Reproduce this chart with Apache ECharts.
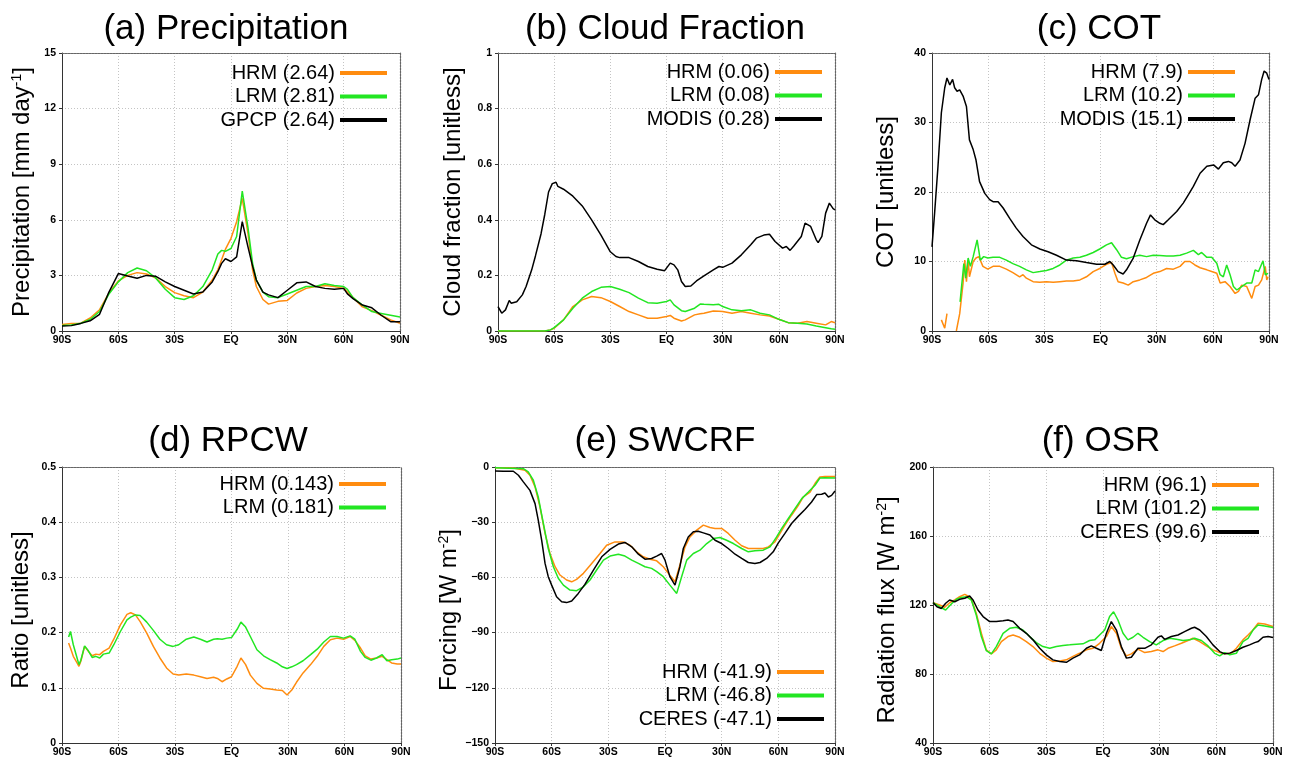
<!DOCTYPE html>
<html><head><meta charset="utf-8">
<script src="https://cdn.jsdelivr.net/npm/echarts@6/dist/echarts.min.js"></script>
<style>html,body{margin:0;padding:0;background:#fff}#c{width:1290px;height:760px}</style>
</head><body><div id="c"></div>
<script>
// ---------- (a) Precipitation ----------
const precLat  = [-90,-85,-80,-75,-70,-65,-60,-55,-50,-45,-40,-35,-30,-25,-20,-15,-10,-7,-5,-3,0,3,6,9,11.5,13.5,17,20,25,30,35,40,45,50,55,60,62,65,70,75,80,85,90];
const precHRM  = [0.35,0.4,0.42,0.7,1.15,2.05,2.7,3.0,3.15,3.08,2.85,2.4,2.07,1.9,1.8,2.1,2.75,3.3,3.85,4.4,5.0,5.9,7.15,5.3,3.3,2.4,1.7,1.45,1.6,1.65,2.05,2.3,2.4,2.45,2.4,2.3,2.1,1.8,1.3,1.1,0.85,0.6,0.42];
const precLRM  = [0.3,0.32,0.42,0.62,1.05,2.0,2.65,3.15,3.4,3.25,2.85,2.25,1.8,1.7,1.9,2.4,3.3,4.15,4.35,4.3,4.45,5.1,7.55,5.6,3.65,2.75,2.1,1.85,1.8,2.0,2.2,2.4,2.4,2.55,2.45,2.4,2.25,1.8,1.4,1.05,0.95,0.85,0.75];
const precGPCP = [0.27,0.29,0.41,0.55,0.9,2.1,3.1,2.97,2.85,3.0,2.95,2.65,2.4,2.2,2.0,2.1,2.65,3.2,3.65,3.9,3.75,4.0,5.9,4.55,3.5,2.75,2.1,1.95,1.8,2.2,2.6,2.65,2.4,2.3,2.25,2.3,2.0,1.75,1.4,1.25,0.85,0.5,0.5];

// ---------- (b) Cloud Fraction ----------
const cfModelLat = [-90,-65,-62,-60,-55,-50,-45,-40,-35,-30,-25,-20,-15,-10,-5,0,2,4,8,10,15,18,20,25,28,30,35,40,45,50,55,60,65,70,75,80,85,88,90];
const cfHRM = [0,0,0.004,0.01,0.04,0.088,0.112,0.124,0.12,0.106,0.088,0.07,0.058,0.046,0.046,0.052,0.056,0.046,0.036,0.04,0.058,0.062,0.064,0.072,0.071,0.07,0.064,0.07,0.064,0.058,0.054,0.042,0.03,0.028,0.034,0.028,0.022,0.034,0.03];
const cfLRM = [0,0,0.004,0.012,0.04,0.082,0.118,0.142,0.157,0.16,0.15,0.138,0.118,0.102,0.1,0.106,0.112,0.094,0.073,0.07,0.082,0.097,0.096,0.094,0.096,0.088,0.076,0.073,0.076,0.064,0.058,0.042,0.03,0.028,0.025,0.018,0.012,0.008,0.006];
const cfObsLat = [-90,-88,-86,-84,-83,-80,-77,-75,-72,-70,-67,-65,-63,-61,-59,-58,-55,-50,-45,-40,-35,-30,-27,-25,-20,-15,-10,-5,-1,0,2,4,6,8,10,13,16,20,25,28,30,35,40,45,48,52,55,58,62,64,66,68,72,74,75,77,80,81,83,85,87,89,90];
const cfMODIS = [0.088,0.064,0.076,0.11,0.10,0.105,0.13,0.16,0.22,0.27,0.35,0.42,0.50,0.53,0.535,0.52,0.51,0.485,0.45,0.40,0.345,0.285,0.268,0.264,0.264,0.25,0.232,0.222,0.217,0.22,0.244,0.238,0.22,0.178,0.16,0.162,0.18,0.198,0.22,0.232,0.229,0.244,0.274,0.31,0.334,0.345,0.348,0.322,0.298,0.304,0.29,0.306,0.34,0.388,0.394,0.376,0.328,0.318,0.34,0.424,0.46,0.44,0.436];

// ---------- (c) COT ----------
const cotHRMLat = [-85,-83.2,-82,-80,-77,-75.2,-73.4,-72.5,-71.6,-70.7,-70,-68,-66.5,-65,-62.8,-60.2,-57.4,-53.8,-50.3,-46.8,-43.2,-41.4,-39.6,-36,-32.4,-28.9,-25.3,-21.7,-18.2,-14.6,-11,-7.5,-3.9,-0.4,3.2,5.9,7.7,9.4,12.1,14.8,17.5,21,24.6,28.2,31.7,35.3,38.9,42.5,45,47.8,50.4,53.2,56.8,59.4,62.1,63.9,66.5,69.2,71.9,73.7,75.4,78.1,80.8,82.6,84.4,86.1,88,88.8,89.5];
const cotHRM = [1.6,0.4,2.5,null,0,2.5,6.9,10.2,7.1,10.2,7.8,10,10.5,10.7,9.3,8.9,9.3,9.3,8.9,8.4,7.8,8.1,7.6,7.1,7.0,7.1,7.0,7.1,7.2,7.2,7.35,7.8,8.55,9.0,9.6,9.85,8.3,7.1,6.9,6.6,7.1,7.35,7.7,8.3,8.55,9.0,8.9,9.3,10,10,9.5,9.1,8.8,8.55,8.3,6.9,7.1,6.4,5.4,5.7,6.6,6.4,4.7,6.4,6.6,7.35,9.3,7.35,7.8];
const cotLRMLat = [-75,-73,-72,-70.7,-69.5,-68,-65.9,-64.2,-62.4,-60.2,-57.4,-53.8,-50.3,-46.8,-43.2,-39.6,-36,-32.4,-28.9,-25.3,-21.7,-18.2,-14.6,-11,-7.5,-3.9,-0.4,3.2,5.9,8.6,11.2,13.9,17.5,21,24.6,28.2,31.7,35.3,38.9,42.5,46,49.6,52.3,54,56.8,59.4,62.1,63.9,65.6,67.4,69.2,71,72.8,75.4,78.1,80.8,82.6,84.4,86.8,88,89.5];
const cotLRM = [4.2,9.7,7.6,10.5,9.3,10.7,13.1,10.2,10.7,10.5,10.6,10.6,10.2,9.7,9.3,8.8,8.4,8.55,8.7,9.0,9.5,10.2,10.5,10.6,10.9,11.3,11.8,12.4,12.7,11.7,10.6,10.4,10.7,10.9,10.7,10.9,10.85,10.8,10.8,10.9,11.2,11.6,11,11.3,10.6,10.6,9.75,8.1,7.8,9.5,8.1,6.4,5.9,6.4,6.9,6.9,8.8,8.55,10.1,8.1,8.3];
const cotObsLat = [-90,-88.6,-86.8,-85,-83.2,-82,-80.5,-79,-77.9,-76.6,-75.2,-73.4,-71.6,-70,-68,-66.5,-64.6,-61.8,-59.2,-57.4,-54.7,-52,-48.5,-45,-41.4,-36.9,-32.4,-28,-23.5,-18.2,-12.8,-7.5,-2.1,2.3,5,6.8,9.4,12.1,13.9,17.5,21,24.6,26.7,29,31.7,33.5,36.2,40.7,44.2,46.9,49.6,53.2,56.8,60.4,63,65.6,68.3,70.1,71.9,74.5,77.2,79.9,82.6,84.4,86.1,87.4,88.8,90];
const cotMODIS = [12.1,17,23.7,31.4,35,36.4,35.4,36.2,35,34.5,34.7,33.8,32.3,27.5,26.1,24.6,21.5,19.8,18.9,18.6,18.6,17.7,16.2,14.8,13.6,12.4,11.8,11.4,10.9,10.2,10.1,9.85,9.6,9.6,10,9.5,8.55,8.2,8.8,10.5,13.1,15.5,16.7,16,15.5,15.3,16,17.2,18.4,19.6,20.8,22.7,23.7,23.9,23.3,24.2,24.4,24.2,23.7,24.6,27,30.4,33.5,34,36.2,37.4,37.1,36.2];

// ---------- (d) RPCW ----------
const rpcwLat = [-86.5,-85.5,-84,-82,-81,-80,-78,-76,-74,-72,-70,-68,-65,-62.5,-59,-55.5,-53.5,-51,-48.5,-45,-41.5,-38,-34.5,-31,-28,-24,-20,-16.5,-13,-9.5,-7.5,-5,-2.5,0,3,5,7.5,10,13.5,17,20.5,24,27,29.5,32,34.5,38,42,45.5,49,52.5,56,59.5,63,65.5,68.5,71,74,77,80,82.5,85,88,90];
const rpcwHRM = [0.181,0.172,0.157,0.145,0.139,0.148,0.175,0.166,0.158,0.161,0.16,0.166,0.172,0.188,0.214,0.233,0.236,0.232,0.22,0.199,0.175,0.154,0.136,0.125,0.123,0.125,0.123,0.12,0.117,0.119,0.117,0.111,0.116,0.12,0.139,0.154,0.142,0.123,0.108,0.099,0.098,0.096,0.095,0.087,0.096,0.11,0.127,0.142,0.157,0.175,0.187,0.19,0.188,0.193,0.186,0.172,0.158,0.152,0.154,0.157,0.151,0.145,0.143,0.143];
const rpcwLRM = [0.192,0.202,0.178,0.154,0.142,0.150,0.176,0.167,0.155,0.157,0.154,0.161,0.163,0.178,0.202,0.223,0.228,0.232,0.231,0.219,0.204,0.188,0.178,0.175,0.178,0.188,0.192,0.188,0.183,0.188,0.189,0.188,0.19,0.191,0.206,0.219,0.21,0.193,0.169,0.158,0.151,0.145,0.138,0.135,0.138,0.142,0.149,0.16,0.17,0.183,0.193,0.193,0.19,0.194,0.188,0.166,0.155,0.15,0.154,0.16,0.149,0.151,0.152,0.154];

// ---------- (e) SWCRF ----------
const swHRMLat = [-90,-80.3,-74.1,-71.5,-68.8,-66.2,-63.5,-60.9,-58.2,-55.6,-52.1,-49.4,-46.8,-43.2,-38.8,-34.4,-30.9,-26.5,-22.1,-18.5,-15,-11.5,-7.9,-4.4,-0.9,1.8,5.3,7.9,10.6,13.2,16.8,20.3,23.8,26.5,30,33.5,37.1,40.6,44.1,47.6,52,54.7,58.2,60.9,63.5,67,70.6,73.2,76.8,79.4,82,84.7,90];
const swHRM = [-0.4,-0.5,-1.8,-4.5,-10.8,-21.7,-36.1,-47,-54.2,-58.7,-61.4,-62.4,-61.1,-57.8,-52.4,-47,-42.5,-40.7,-40.7,-42.5,-46.1,-48.8,-50.1,-51,-54.2,-57.8,-62.4,-53.3,-43.4,-38,-34.3,-31.6,-32.9,-33.4,-33.4,-36.1,-39.8,-42.8,-44.3,-44.3,-44.3,-43.4,-40.7,-36.1,-31.6,-26.2,-20.8,-16.3,-13.6,-9,-5.4,-5.1,-5.2];
const swLRMLat = [-90,-75,-72.4,-69.7,-67.1,-64.4,-61.8,-59.1,-56.5,-53.8,-50.3,-46.8,-43.2,-39.7,-36.2,-32.6,-29.1,-24.7,-21.2,-17.6,-14.1,-10.6,-7.1,-4.4,-0.9,2.6,6.2,8.8,11.5,15,18.5,22.1,25.6,29.1,32.6,36.2,40.6,44.1,47.6,52,55.6,59.1,61.8,65.3,68.8,72.4,75.9,79.4,82,84.7,90];
const swLRM = [-0.4,-0.9,-2.7,-7.2,-16.3,-30.7,-44.3,-54.2,-60.5,-64.2,-66.9,-67.2,-65.1,-61.4,-56,-50.6,-48.4,-47.4,-48.4,-50.6,-52.4,-54.2,-55.1,-56.9,-59.6,-64.2,-68.7,-59.6,-50.6,-47,-45.2,-41.6,-38.9,-38.3,-39.8,-41.6,-44.3,-46.1,-45.5,-45.2,-43.4,-38,-33.4,-28,-22.6,-17.2,-13.6,-9.9,-6,-5.8,-6];
const swObsLat = [-90,-85.6,-80.3,-77.6,-75,-71.5,-68.8,-67.1,-65.3,-63.5,-61.8,-60,-57.4,-54.7,-52.1,-49.4,-45.9,-42.4,-37.9,-33.5,-29.1,-24.7,-21.2,-17.6,-14.1,-10.6,-7.1,-4.4,-1.8,0,2.6,5.3,7.9,9.7,12.3,15,17.6,20.3,23.8,26.5,30,33.5,37.1,40.6,44.1,47.6,50.3,53.8,57.3,60,63.5,67,70.6,74.1,77.6,80.3,82.9,84.7,86.5,88.2,90];
const swCERES = [-2.2,-2.3,-2.3,-4.5,-8.1,-12.7,-19.9,-28.9,-39.8,-52.4,-59.6,-64.2,-70.5,-73.2,-73.7,-72.8,-68.7,-63.8,-56,-48.8,-44.8,-41.9,-41,-43.4,-47.4,-50.1,-49.7,-48.4,-47,-50.6,-59.6,-64.2,-54.2,-44.3,-38,-35.2,-34.9,-35.8,-37,-39.8,-41.6,-44.3,-47.4,-49.7,-51.9,-52.4,-51.9,-49.7,-46.1,-41.2,-36.1,-30.7,-26.7,-23.1,-19,-15,-14.8,-14.1,-16.3,-15.4,-13];

// ---------- (f) OSR ----------
const osrHRMLat = [-90,-86.5,-83.8,-81.2,-78.5,-75.9,-73.2,-71.5,-69.7,-67.1,-64.4,-61.8,-59.1,-56.5,-53.8,-50.3,-47.6,-44.1,-40.6,-37.1,-33.5,-30,-26.5,-22.9,-19.4,-15.9,-12.4,-8.8,-5.3,-1.8,1.8,4.4,7.1,9.7,12.4,15,18.5,22.1,25.6,29.1,31.8,34.4,37.9,41.5,45,47.6,51.2,54.7,58.2,61.8,64.4,68,70.6,74.1,76.8,79.4,82.1,85.6,90];
const osrHRM = [121.3,120,118.7,121.3,122.9,124.8,126.2,125.2,123.3,115.2,103.6,94,91.7,94,98.8,101.7,102.6,101.3,98.8,95.9,92,89.2,87.2,87.6,88.2,90.2,92,94,94.9,97.8,101.7,107.5,103.6,94.9,90.5,91.7,94.4,92.4,93,94,93,94.9,96.3,97.8,99.4,100.7,98.8,96.3,94,92.4,91.7,92.1,94.9,99.8,102.6,105.5,109.4,109,107.5];
const osrLRMLat = [-90,-86.5,-83.3,-80.3,-77.6,-75,-72.4,-69.7,-67.1,-64.4,-61.8,-59.1,-56.5,-52.9,-49.4,-45.9,-42.4,-38.8,-35.3,-31.8,-28.2,-24.7,-21.2,-17.6,-14.1,-10.6,-7.1,-4.4,-1.8,0.9,3.5,5.6,7.9,10.6,13.2,15.9,18.5,21.2,24.7,28.2,31.8,35.3,38.8,42.4,45.9,48.5,52.1,55.6,59.1,61.8,64.4,67.1,70.6,74.1,76.8,79.4,82.1,85.6,90];
const osrLRM = [121.3,119,117.1,120.6,123.3,124.4,124.8,122.9,114.2,101.7,93.6,91.7,95.9,103.6,106.5,107.1,105.5,101.7,98.2,95.9,94.9,95.9,96.5,96.9,97.3,97.5,99.4,99.8,102.6,105.5,113.3,116.1,111.3,103.6,99.8,101.3,103.6,101.3,98.8,96.9,99.4,100.7,100.1,99.4,99.8,100.7,99.4,96.3,92,90.5,92.4,91.1,92,98.8,100.7,105.5,108.4,107.8,106.9];
const osrObsLat = [-90,-87.9,-85.6,-83.3,-81.2,-78.5,-75.9,-73.2,-70.6,-68.8,-66.2,-63.5,-60,-56.5,-52.9,-50.3,-47.6,-44.1,-40.6,-37.1,-33.5,-30,-26.5,-22.9,-19.4,-15.9,-12.4,-8.8,-6.2,-3.5,-0.9,1.8,4.4,7.1,9.7,12.4,15,18.5,22.1,25.6,29.1,30.9,32.6,36.2,39.7,43.2,46.8,48.5,51.2,54.7,58.2,61.8,64.4,67.1,70.6,74.1,77.6,80.3,82.1,84.7,87.4,90];
const osrCERES = [121.5,119,118,121,122.9,121.9,123.3,123.9,125.2,122.9,117.1,113.3,110.4,110.4,110.9,111.3,110.4,106.5,103.6,99.8,94.9,91.1,88.2,87.2,86.8,89.2,91.1,94.9,96.3,94.9,93.6,103.6,110.4,105.5,95.9,89.2,89.7,94.9,94.9,96.9,101.3,102.1,100.1,101.7,102.6,104.6,106.5,107.1,105.5,101.7,96.9,93,91.7,92.1,93.6,95.5,96.9,98.2,98.8,101.3,101.7,101.1];

// ---------- text ----------
const titles = ['(a) Precipitation','(b) Cloud Fraction','(c) COT','(d) RPCW','(e) SWCRF','(f) OSR'];
const yNames = ['Precipitation [mm day{sup|-1}]','Cloud fraction [unitless]','COT [unitless]','Ratio [unitless]','Forcing [W m{sup|-2}]','Radiation flux [W m{sup|-2}]'];
const legendA = ['HRM (2.64)','LRM (2.81)','GPCP (2.64)'];
const legendB = ['HRM (0.06)','LRM (0.08)','MODIS (0.28)'];
const legendC = ['HRM (7.9)','LRM (10.2)','MODIS (15.1)'];
const legendD = ['HRM (0.143)','LRM (0.181)'];
const legendE = ['HRM (-41.9)','LRM (-46.8)','CERES (-47.1)'];
const legendF = ['HRM (96.1)','LRM (101.2)','CERES (99.6)'];
const yRanges = [[0,15,3],[0,1,0.2],[0,40,10],[0,0.5,0.1],[-150,0,30],[40,200,40]];

const ORANGE = '#ff8c0f', GREEN = '#22e622', BLACK = '#000000';
const FONT = '"Liberation Sans", Arial, Helvetica, sans-serif';

const layout = [
  {grid:{left:62,top:53,width:338,height:278}, cx:226, ty:12,   gap:28, npad:0, leg:{right:903, top:63}},
  {grid:{left:498,top:53,width:337,height:278}, cx:665, ty:12,  gap:33, npad:0, leg:{right:468, top:62}},
  {grid:{left:932,top:53,width:337,height:278}, cx:1099, ty:12, gap:34, npad:0, leg:{right:55, top:62}},
  {grid:{left:62,top:467,width:339,height:276}, cx:228, ty:424, gap:29, npad:10, leg:{right:904, top:474}},
  {grid:{left:495,top:467,width:340,height:276}, cx:665, ty:424, gap:28, npad:10, leg:{right:466, top:662}},
  {grid:{left:933,top:467,width:340,height:276}, cx:1101, ty:424, gap:34, npad:10, leg:{right:31, top:475}}
];

const seriesDefs = [
  [[legendA[0],ORANGE,precLat,precHRM],[legendA[1],GREEN,precLat,precLRM],[legendA[2],BLACK,precLat,precGPCP]],
  [[legendB[0],ORANGE,cfModelLat,cfHRM],[legendB[1],GREEN,cfModelLat,cfLRM],[legendB[2],BLACK,cfObsLat,cfMODIS]],
  [[legendC[0],ORANGE,cotHRMLat,cotHRM],[legendC[1],GREEN,cotLRMLat,cotLRM],[legendC[2],BLACK,cotObsLat,cotMODIS]],
  [[legendD[0],ORANGE,rpcwLat,rpcwHRM],[legendD[1],GREEN,rpcwLat,rpcwLRM]],
  [[legendE[0],ORANGE,swHRMLat,swHRM],[legendE[1],GREEN,swLRMLat,swLRM],[legendE[2],BLACK,swObsLat,swCERES]],
  [[legendF[0],ORANGE,osrHRMLat,osrHRM],[legendF[1],GREEN,osrLRMLat,osrLRM],[legendF[2],BLACK,osrObsLat,osrCERES]]
];

const latFmt = v => v === 0 ? 'EQ' : Math.abs(v) + (v < 0 ? 'S' : 'N');
const numFmt = v => v < 0 ? '\u2212' + (-v) : String(+v.toFixed(2));

const option = {animation:false, backgroundColor:'#ffffff', title:[], grid:[], xAxis:[], yAxis:[], legend:[], series:[]};
const tickLbl = {fontFamily:FONT, fontSize:10.5, fontWeight:'bold', color:'#000'};
const gridLine = {show:true, lineStyle:{type:[1,2], color:'#c4c4c4', width:1}};

layout.forEach((L, i) => {
  option.title.push({text:titles[i], left:L.cx, top:L.ty, textAlign:'center', padding:0,
    textStyle:{fontFamily:FONT, fontSize:35, fontWeight:'normal', color:'#000'}});
  option.grid.push(Object.assign({containLabel:false}, L.grid));
  option.xAxis.push({type:'value', gridIndex:i, min:-90, max:90, interval:30,
    axisLine:{show:true, onZero:false, lineStyle:{color:'#333', width:1}},
    axisTick:{show:true, length:3, lineStyle:{color:'#333'}},
    axisLabel:Object.assign({formatter:latFmt, margin:4}, tickLbl),
    splitLine:gridLine});
  option.xAxis.push({type:'value', gridIndex:i, position:'top', min:-90, max:90, interval:30,
    axisLine:{show:true, onZero:false, lineStyle:{color:'#666', type:[2,1], width:1.2}},
    axisTick:{show:false}, axisLabel:{show:false}, splitLine:{show:false}});
  const [mn, mx, iv] = yRanges[i];
  option.yAxis.push({type:'value', gridIndex:i, min:mn, max:mx, interval:iv,
    name:yNames[i], nameLocation:'middle', nameGap:L.gap, nameRotate:90,
    nameTextStyle:{fontFamily:FONT, fontSize:24, color:'#000', padding:[0, L.npad, 0, 0],
      rich:{sup:{fontFamily:FONT, fontSize:14, color:'#000', verticalAlign:'top'}}},
    axisLine:{show:true, onZero:false, lineStyle:{color:'#333', width:1}},
    axisTick:{show:true, length:3, lineStyle:{color:'#333'}},
    axisLabel:Object.assign({formatter:numFmt, margin:6}, tickLbl),
    splitLine:gridLine});
  option.yAxis.push({type:'value', gridIndex:i, position:'right', min:mn, max:mx, interval:iv,
    axisLine:{show:true, onZero:false, lineStyle:{color:'#666', type:[2,1], width:1.2}},
    axisTick:{show:false}, axisLabel:{show:false}, splitLine:{show:false}});
  option.legend.push({orient:'vertical', right:L.leg.right, top:L.leg.top, align:'right',
    icon:'rect', itemWidth:47, itemHeight:4, itemGap:3.5, padding:0, selectedMode:false,
    data:seriesDefs[i].map(s => s[0]),
    textStyle:{fontFamily:FONT, fontSize:20, color:'#000', lineHeight:20}});
  seriesDefs[i].forEach(([name, color, lat, vals]) => {
    option.series.push({type:'line', name, xAxisIndex:2*i, yAxisIndex:2*i,
      data:lat.map((x, k) => [x, vals[k] === null ? '-' : vals[k]]),
      showSymbol:false, symbol:'none', smooth:false, color,
      itemStyle:{color}, lineStyle:{color, width:1.5}});
  });
});

const chart = echarts.init(document.getElementById('c'), null, {renderer:'canvas'});
chart.setOption(option);
</script></body></html>
